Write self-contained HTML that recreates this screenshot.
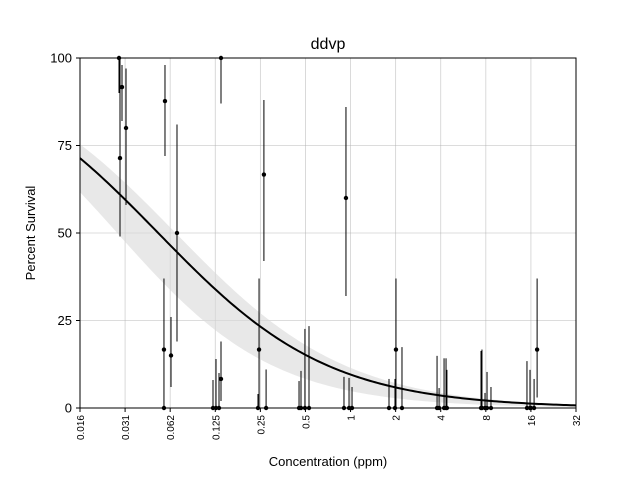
<!DOCTYPE html>
<html><head><meta charset="utf-8"><style>
body{margin:0;background:#fff}
svg{display:block;font-family:"Liberation Sans","DejaVu Sans",sans-serif}
</style></head><body>
<svg id="chart" width="640" height="480">
<rect width="640" height="480" fill="#fff"/>
<text x="328" y="49" font-size="16" text-anchor="middle">ddvp</text>
<g id="grid"></g><g id="band"></g><g id="curve"></g><g id="pts"></g>
<rect x="80" y="58" width="496" height="350" fill="none" stroke="#000" stroke-width="1"/>
<g id="xt"></g><g id="yt"></g>
<text x="328" y="466" font-size="13" text-anchor="middle">Concentration (ppm)</text>
<text transform="translate(35,233) rotate(-90)" font-size="13" text-anchor="middle">Percent Survival</text>
</svg>
<script>
const conc=[0.02846,0.0289,0.0298,0.0317,0.0577,0.0694,0.0568,0.0633,0.0568,0.1365,0.1365,0.1207,0.1264,0.1324,0.245,0.264,0.273,0.241,0.932,2.01,17.6,0.453,0.467,0.496,0.528,0.904,0.977,1.023,1.806,1.98,2.205,3.78,3.90,4.21,4.34,4.40,7.43,7.54,7.90,8.15,8.66,15.06,15.78,16.0,16.8];
const surv=[100,71.4,91.7,80,87.7,50,16.7,15,0,100,8.3,0,0,0,16.7,66.7,0,0,60,16.7,16.7,0,0,0,0,0,0,0,0,0,0,0,0,0,0,0,0,0,0,0,0,0,0,0,0];
const lo=[90,49,82,58,72,19,0,6,0,87,2,0,0,0,0,42,0,0,32,0,3,0,0,0,0,0,0,0,0,0,0,0,0,0,0,0,0,0,0,0,0,0,0,0,0];
const hi=[100,100,98,97,98,81,37,26,0,100,19,8,14,10,37,88,11,4,86,37,37,7.7,10.6,22.6,23.4,8.9,8.6,6,8.3,8.3,17.4,14.9,5.7,14.2,14.2,10.9,16.3,16.7,4.3,10.3,6,13.4,10.9,0,8.3];
const xTicks=[0.015625,0.03125,0.0625,0.125,0.25,0.5,1,2,4,8,16,32];
const xLabels=["0.016","0.031","0.062","0.125","0.25","0.5","1","2","4","8","16","32"];
const yTicks=[0,25,50,75,100];
const fit=[0.052,0.76], fitLo=[0.0277,0.83], fitHi=[0.068,0.76];
const NS="http://www.w3.org/2000/svg";
const X=c=>80+(Math.log2(c)+6)/11*496, Y=v=>408-v*3.5;
function mk(t,p,a){const e=document.createElementNS(NS,t);for(const k in a)e.setAttribute(k,a[k]);document.getElementById(p).appendChild(e);return e;}
xTicks.forEach((t,i)=>{
 const g=mk('line','grid',{x1:X(t),x2:X(t),y1:58,y2:408,stroke:'#b0b0b0','stroke-width':0.8,'stroke-opacity':0.6});
 
 
 const tk=mk('line','xt',{x1:X(t),x2:X(t),y1:408,y2:412,stroke:'#000'});
 
 
 const tx=mk('text','xt',{transform:`translate(${X(t)+4},415) rotate(-90)`,'font-size':10,'text-anchor':'end'});
 tx.textContent=xLabels[i];
 
 
});
yTicks.forEach(t=>{
 const g=mk('line','grid',{x1:80,x2:576,y1:Y(t),y2:Y(t),stroke:'#b0b0b0','stroke-width':0.8,'stroke-opacity':0.6});
 
 
 const tk=mk('line','yt',{x1:76,x2:80,y1:Y(t),y2:Y(t),stroke:'#000'});
 
 
 const tx=mk('text','yt',{x:72,y:Y(t)+4.5,'font-size':13,'text-anchor':'end'});
 tx.textContent=t;
 
 
});
const f=(c,p)=>100/(1+Math.pow(c/p[0],p[1]));
let up=[],dn=[],mid=[];
for(let i=0;i<=200;i++){const c=Math.pow(2,-6+11*i/200);up.push(X(c)+','+Y(f(c,fitHi)));dn.push(X(c)+','+Y(f(c,fitLo)));mid.push(X(c)+','+Y(f(c,fit)));}
const b=mk('polygon','band',{points:up.concat(dn.reverse()).join(' '),fill:'#d9d9d9','fill-opacity':0.6});


const l=mk('polyline','curve',{points:mid.join(' '),fill:'none',stroke:'#000','stroke-width':2});


conc.forEach((c,i)=>{
 const e=mk('line','pts',{x1:X(c),x2:X(c),y1:Y(lo[i]),y2:Y(hi[i]),stroke:'#000','stroke-width':1});
 
 
 const p=mk('circle','pts',{cx:X(c),cy:Y(surv[i]),r:2.2,fill:'#000'});
 
 
});
</script>
</body></html>
